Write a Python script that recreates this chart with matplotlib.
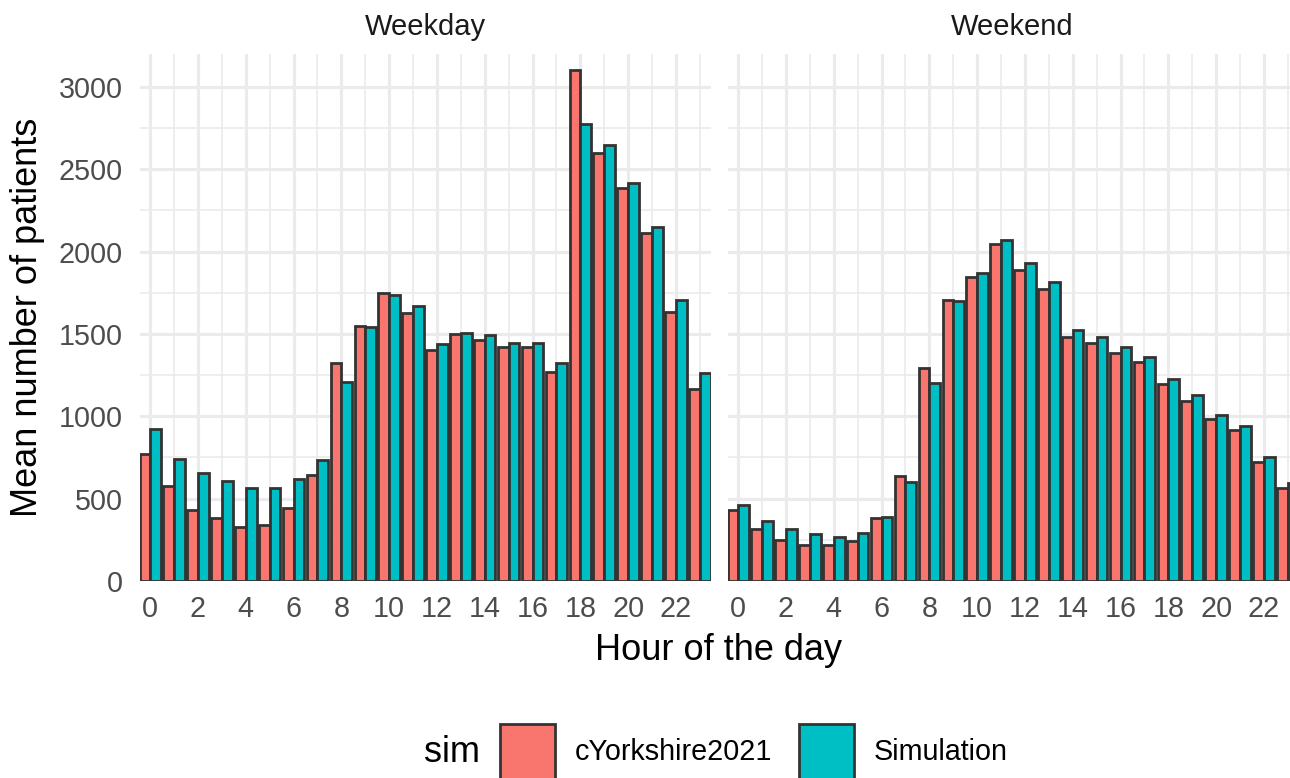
import numpy as np
import matplotlib
matplotlib.use("Agg")
import matplotlib.pyplot as plt
from matplotlib.patches import Rectangle

plt.rcParams['font.family'] = ['Liberation Sans', 'DejaVu Sans']

hours = np.arange(24)
panels = ['Weekday', 'Weekend']
series = ['cYorkshire2021', 'Simulation']
colours = ['#F8766D', '#00BFC4']

# mean number of patients per hour
weekday_obs = [774, 576, 434, 382, 326, 340, 445, 643, 1324, 1551, 1749, 1630,
               1401, 1501, 1463, 1422, 1422, 1271, 3102, 2599, 2386, 2111, 1635, 1167]
weekday_sim = [921, 743, 653, 607, 566, 566, 618, 737, 1207, 1541, 1739, 1670,
               1441, 1505, 1495, 1443, 1443, 1322, 2775, 2649, 2418, 2152, 1706, 1261]
weekend_obs = [430, 314, 247, 217, 217, 243, 381, 640, 1293, 1708, 1844, 2045,
               1886, 1772, 1481, 1444, 1387, 1327, 1196, 1096, 984, 918, 720, 565]
weekend_sim = [462, 365, 314, 284, 269, 292, 389, 600, 1203, 1702, 1870, 2069,
               1930, 1815, 1522, 1481, 1420, 1359, 1229, 1127, 1010, 939, 751, 596]

data = {'Weekday': [weekday_obs, weekday_sim],
        'Weekend': [weekend_obs, weekend_sim]}

W, H = 1290, 778
fig = plt.figure(figsize=(W / 100, H / 100), dpi=100)


def px_axes(x0, top, x1, bottom):
    return fig.add_axes([x0 / W, 1 - bottom / H, (x1 - x0) / W, (bottom - top) / H])


grid_col = '#EBEBEB'
bw = 0.45
# right panel runs past the image edge, like in the reference
axes = [px_axes(139.5, 54, 710.5, 581), px_axes(727.5, 54, 1298.5, 581)]
strip_x = [425, 1012]

for i, (ax, name) in enumerate(zip(axes, panels)):
    for j, vals in enumerate(data[name]):
        off = -bw / 2 if j == 0 else bw / 2
        ax.bar(hours + off, vals, width=bw, color=colours[j],
               edgecolor='#333333', linewidth=2.0)
    ax.set_xlim(-0.45, 23.45)
    ax.set_ylim(0, 3200)
    ax.set_xticks(np.arange(0, 24, 2))
    ax.set_xticks(np.arange(1, 24, 2), minor=True)
    ax.set_yticks(np.arange(0, 3001, 500))
    ax.set_yticks(np.arange(250, 3200, 500), minor=True)
    ax.grid(True, which='major', color=grid_col, linewidth=2.3)
    ax.grid(True, which='minor', color=grid_col, linewidth=1.2)
    ax.set_axisbelow(True)
    for s in ax.spines.values():
        s.set_visible(False)
    ax.tick_params(which='both', length=0, labelsize=20.7, labelcolor='#4D4D4D')
    ax.tick_params(axis='x', pad=10)
    ax.tick_params(axis='y', pad=12)
    if i == 1:
        ax.tick_params(axis='y', labelleft=False)
    fig.text(strip_x[i] / W, 1 - 27 / H, name, fontsize=21, color='#1A1A1A',
             ha='center', va='center')

fig.text(719 / W, 1 - 650 / H, 'Hour of the day', fontsize=26, ha='center', va='center')
fig.text(28 / W, 1 - 317 / H, 'Mean number of patients', fontsize=26,
         rotation=90, ha='center', va='center')

# legend at the bottom
ly = 752
fig.text(424 / W, 1 - ly / H, 'sim', fontsize=26, ha='left', va='center')
for x0, col, lab in [(500, colours[0], series[0]), (799, colours[1], series[1])]:
    fig.patches.append(Rectangle((x0 / W, 1 - 779 / H), 55 / W, 55 / H,
                                 transform=fig.transFigure, facecolor=col,
                                 edgecolor='#333333', linewidth=2.0))
    fig.text((x0 + 75) / W, 1 - ly / H, lab, fontsize=20.7, ha='left', va='center')

fig.savefig('out.png', dpi=100)
